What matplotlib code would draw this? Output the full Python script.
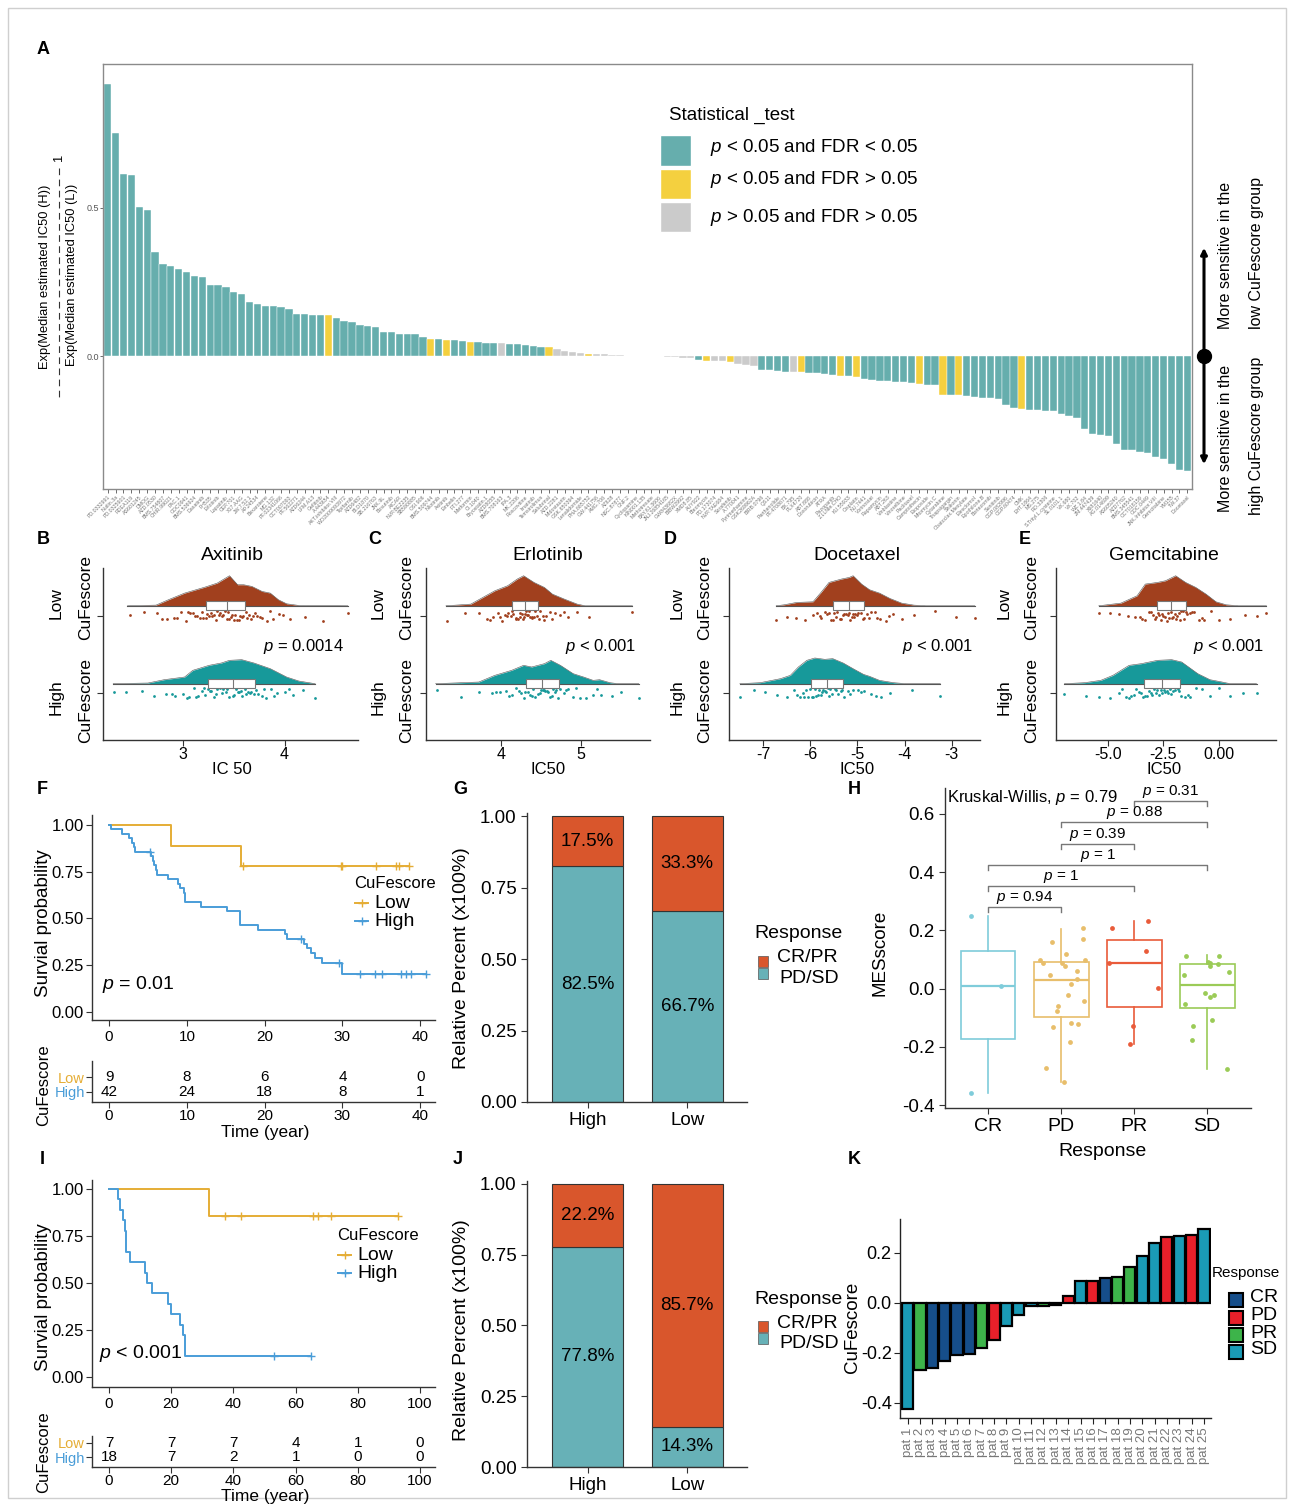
import numpy as np
import matplotlib
matplotlib.use("Agg")
import matplotlib.pyplot as plt
from matplotlib.patches import Rectangle, FancyArrowPatch
from matplotlib.lines import Line2D

plt.rcParams['font.family'] = ['Liberation Sans', 'DejaVu Sans']
plt.rcParams['mathtext.fontset'] = 'custom'
plt.rcParams['mathtext.rm'] = 'Liberation Sans'
plt.rcParams['mathtext.it'] = 'Liberation Sans:italic'
plt.rcParams['mathtext.sf'] = 'Liberation Sans'
plt.rcParams['axes.unicode_minus'] = False

# ---------------- data: panel A (drug sensitivity ranking) ----------------
drug_names = [
    "PD.0332991", "Nutlin.3a", "PD.0325901", "RDEA119", "AS601245", "DMOG", "AZD.0530", "BMS.754807", "CHIR.99021", "PAC.1",
    "GDC0941", "BMS.536924", "Dasatinib", "FH535", "Erlotinib", "Lapatinib", "CEP.701", "X17.AAG", "JW.7.52.1", "AP.24534",
    "Bexarotene", "MG.132", "PF.02341066", "CCT007093", "PF.562271", "AZD6244", "LFM.A13", "Gefitinib", "A.443654", "AKT.inhibitor.VIII",
    "WO2009093972", "Tipifarnib", "AZD6482", "BI.D1870", "SB.216763", "JNK.9L", "Bosutinib", "AICAR", "NVP.BEZ235", "SB590885",
    "OSI.906", "BMS.509744", "Nilotinib", "Axitinib", "Embelin", "FTI.277", "Metformin", "CI.1040", "Bryostatin.1", "AZD8055",
    "BMS.708163", "IPA.3", "MK.2206", "Roscovitine", "Imatinib", "Temsirolimus", "Salubrinal", "AZD.2281", "Midostaurin", "GSK.650394",
    "Lenalidomide", "PHA.665752", "GW.441756", "AMG.706", "AZ628", "NSC.87877", "GNF.2", "Cyclopamine", "KIN001.135", "Methotrexate",
    "BAY.61.3606", "JNJ.26854165", "GW843682X", "BIBW2992", "XMD8.85", "AUY922", "Bleomycin", "PD.173074", "NVP.TAE684", "Sorafenib",
    "A.770041", "Pyrimethamine", "GSK269962A", "BIRB.0796", "QS11", "Parthenolide", "PF.4708671", "BX.795", "PLX4720", "ABT.888",
    "Doxorubicin", "ATRA", "Pazopanib", "Z.LLNle.CHO", "KU.55933", "Cisplatin", "NU.7441", "Vorinostat", "Rapamycin", "ABT.263",
    "Vinblastine", "Vinorelbine", "Paclitaxel", "Camptothecin", "Etoposide", "Mitomycin.C", "Cytarabine", "Thapsigargin", "Shikonin", "Obatoclax.Mesylate",
    "Elesclomol", "Epothilone.B", "Bortezomib", "Sunitinib", "CGP.082996", "CGP.60474", "CMK", "EHT.1864", "MS.275", "RO.3306",
    "S.Trityl.L.cysteine", "SL.0101.1", "VX.680", "VX.702", "WZ.1.84", "ZM.447439", "X681640", "AG.014699", "AS605240", "AZD7762",
    "BMS.345541", "CCT018159", "GDC.0449", "JNK.Inhibitor.VIII", "Gemcitabine", "YM155", "TW.37", "Docetaxel",
]
drug_ratio = [
    0.920, 0.753, 0.614, 0.610, 0.503, 0.492, 0.350, 0.311, 0.305, 0.294,
    0.285, 0.270, 0.267, 0.241, 0.239, 0.234, 0.216, 0.208, 0.184, 0.175,
    0.169, 0.168, 0.167, 0.159, 0.143, 0.142, 0.140, 0.139, 0.137, 0.128,
    0.117, 0.115, 0.106, 0.100, 0.099, 0.081, 0.080, 0.075, 0.075, 0.073,
    0.063, 0.059, 0.056, 0.055, 0.053, 0.050, 0.047, 0.046, 0.043, 0.043,
    0.043, 0.041, 0.039, 0.036, 0.035, 0.030, 0.030, 0.023, 0.016, 0.012,
    0.010, 0.008, 0.006, 0.006, 0.004, 0.002, 0.001, 0.0005, 0.0003,
    -0.0005, -0.001, -0.002, -0.003, -0.005, -0.008,
    -0.012, -0.018, -0.018, -0.018, -0.021, -0.026, -0.032, -0.035,
    -0.047, -0.048, -0.050, -0.053, -0.054, -0.054, -0.056, -0.057, -0.062, -0.064,
    -0.066, -0.069, -0.072, -0.079, -0.082, -0.084, -0.086, -0.088, -0.089, -0.091,
    -0.093, -0.097, -0.099,
    -0.131, -0.133, -0.133, -0.135, -0.139, -0.141, -0.141, -0.144, -0.167, -0.175, -0.180,
    -0.181, -0.182, -0.187, -0.187, -0.197, -0.204, -0.209, -0.245, -0.262, -0.265,
    -0.270, -0.296, -0.316, -0.319, -0.324, -0.328, -0.341, -0.349, -0.366, -0.384, -0.389,
]
# 1-based positions of bars with p < 0.05 but FDR > 0.05, and of non-significant bars
drug_yellow = [29, 42, 44, 47, 57, 62, 77, 80, 89, 94, 96, 104, 107, 109, 117]
drug_gray = [51, 58, 59, 60, 61, 63, 64, 65, 66, 67, 68, 69, 70, 71, 72, 73, 74, 75,
             78, 79, 81, 82, 83, 88]
stat_labels = ['$p$ < 0.05 and FDR < 0.05', '$p$ < 0.05 and FDR > 0.05', '$p$ > 0.05 and FDR > 0.05']

# ---------------- data: panels B-E (raincloud) ----------------
axi_low_dx = [2.46, 2.74, 2.86, 3.02, 3.22, 3.34, 3.46, 3.54, 3.60, 3.68, 3.78, 3.86, 3.94, 4.02, 4.14, 4.62]
axi_low_dh = [0, 2, 18, 38, 56, 68, 90, 63, 63, 58, 43, 38, 18, 6, 1, 0]
axi_low_box = [2.46, 3.23, 3.44, 3.61, 4.62]
axi_low_pts = [2.48, 2.62, 2.75, 2.85, 2.92, 2.98, 3.03, 3.07, 3.10, 3.14, 3.17, 3.20, 3.23, 3.26, 3.29, 3.31, 3.34,
               3.37, 3.40, 3.42, 3.44, 3.46, 3.48, 3.50, 3.53, 3.56, 3.59, 3.62, 3.65, 3.69, 3.73, 3.78, 3.83, 3.89,
               3.95, 4.05, 4.20, 4.38, 4.62, 2.80, 2.95, 3.05, 3.12, 3.19, 3.24, 3.28, 3.33, 3.36, 3.39, 3.45,
               3.47, 3.51, 3.55, 3.58, 3.63, 3.67, 3.71, 3.76, 3.86, 3.98]
axi_high_dx = [2.32, 2.66, 2.82, 3.02, 3.10, 3.26, 3.38, 3.46, 3.58, 3.70, 3.86, 4.02, 4.14, 4.30]
axi_high_dh = [0, 2, 12, 20, 40, 55, 62, 70, 72, 62, 45, 20, 8, 0]
axi_high_box = [2.32, 3.25, 3.49, 3.71, 4.30]
axi_high_pts = [2.33, 2.45, 2.60, 2.72, 2.84, 2.93, 3.00, 3.06, 3.11, 3.15, 3.19, 3.22, 3.25, 3.28, 3.31, 3.34, 3.37,
                3.40, 3.43, 3.46, 3.49, 3.52, 3.55, 3.58, 3.61, 3.64, 3.67, 3.70, 3.74, 3.78, 3.82, 3.87, 3.93, 4.00,
                4.08, 4.18, 4.30, 2.90, 3.04, 3.13, 3.21, 3.27, 3.33, 3.39, 3.44, 3.50, 3.54, 3.57, 3.62, 3.66,
                3.72, 3.80, 3.90, 4.04]

erl_low_dx = [3.31, 3.62, 3.77, 3.92, 4.08, 4.20, 4.28, 4.41, 4.54, 4.64, 4.79, 4.95, 5.05, 5.64]
erl_low_dh = [0, 5, 25, 45, 60, 80, 90, 70, 55, 35, 20, 5, 0, 0]
erl_low_box = [3.31, 4.14, 4.30, 4.46, 5.64]
erl_low_pts = [3.32, 3.55, 3.72, 3.82, 3.90, 3.96, 4.01, 4.05, 4.09, 4.12, 4.15, 4.18, 4.21, 4.24, 4.27, 4.29, 4.31,
               4.33, 4.36, 4.39, 4.42, 4.45, 4.48, 4.52, 4.56, 4.61, 4.67, 4.74, 4.83, 4.95, 5.10, 5.64, 3.86,
               3.98, 4.07, 4.14, 4.19, 4.23, 4.26, 4.30, 4.32, 4.35, 4.38, 4.41, 4.47, 4.54, 4.63, 4.78]
erl_high_dx = [3.18, 3.72, 3.92, 4.13, 4.28, 4.38, 4.54, 4.62, 4.74, 4.90, 5.03, 5.15, 5.23, 5.36, 5.46, 5.72]
erl_high_dh = [0, 5, 25, 40, 55, 50, 60, 70, 55, 30, 20, 10, 12, 3, 0, 0]
erl_high_box = [3.18, 4.31, 4.51, 4.72, 5.72]
erl_high_pts = [3.20, 3.50, 3.72, 3.88, 3.98, 4.06, 4.13, 4.19, 4.25, 4.30, 4.34, 4.38, 4.42, 4.46, 4.50, 4.53, 4.57,
                4.61, 4.65, 4.69, 4.73, 4.78, 4.84, 4.90, 4.98, 5.06, 5.15, 5.25, 5.38, 5.50, 5.72, 3.93, 4.10,
                4.22, 4.28, 4.36, 4.40, 4.48, 4.52, 4.55, 4.59, 4.63, 4.67, 4.71, 4.81, 4.94, 5.20]

doc_low_dx = [-6.72, -6.55, -6.29, -5.94, -5.77, -5.60, -5.34, -5.17, -5.09, -4.91, -4.74, -4.53, -4.31, -4.06, -3.80, -3.55, -2.51]
doc_low_dh = [0, 3, 10, 12, 40, 70, 80, 85, 90, 65, 48, 38, 22, 8, 2, 0, 0]
doc_low_box = [-6.72, -5.52, -5.17, -4.85, -2.51]
doc_low_pts = [-6.72, -6.50, -6.30, -6.10, -5.95, -5.85, -5.76, -5.68, -5.61, -5.55, -5.49, -5.43, -5.37, -5.31, -5.25,
               -5.20, -5.15, -5.10, -5.04, -4.98, -4.92, -4.86, -4.80, -4.72, -4.63, -4.52, -4.40, -4.25, -4.05, -3.80,
               -3.35, -2.90, -2.51, -5.80, -5.64, -5.52, -5.46, -5.34, -5.28, -5.18, -5.12, -5.07, -5.01, -4.89,
               -4.76, -4.58, -4.33]
doc_high_dx = [-7.49, -7.06, -6.63, -6.42, -6.25, -6.07, -5.90, -5.69, -5.52, -5.30, -5.09, -4.87, -4.74, -4.53, -4.23, -3.97, -3.24]
doc_high_dh = [0, 3, 15, 25, 50, 70, 77, 73, 75, 62, 45, 28, 22, 10, 3, 0, 0]
doc_high_box = [-7.49, -5.99, -5.64, -5.30, -3.24]
doc_high_pts = [-7.49, -7.20, -6.95, -6.70, -6.50, -6.35, -6.22, -6.12, -6.04, -5.97, -5.90, -5.84, -5.78, -5.72, -5.66,
                -5.60, -5.54, -5.48, -5.42, -5.35, -5.28, -5.20, -5.10, -4.98, -4.85, -4.70, -4.50, -4.30, -3.85, -3.24,
                -6.28, -6.16, -6.08, -6.00, -5.93, -5.87, -5.81, -5.75, -5.69, -5.63, -5.57, -5.45, -5.32, -5.15,
                -4.92, -4.60]

gem_low_dx = [-5.42, -4.42, -3.69, -3.32, -2.77, -2.41, -1.95, -1.50, -1.04, -0.58, -0.13, 0.33, 0.88, 2.15]
gem_low_dh = [0, 8, 30, 65, 70, 75, 90, 70, 55, 35, 12, 3, 0, 0]
gem_low_box = [-5.42, -2.81, -2.14, -1.46, 2.15]
gem_low_pts = [-5.42, -4.90, -4.50, -4.10, -3.80, -3.55, -3.35, -3.15, -2.98, -2.84, -2.70, -2.56, -2.43, -2.30, -2.18,
               -2.06, -1.94, -1.82, -1.70, -1.57, -1.43, -1.28, -1.10, -0.90, -0.65, -0.35, 0.00, 0.50, 1.20, 1.70, 2.15,
               -3.45, -3.05, -2.90, -2.76, -2.63, -2.50, -2.36, -2.24, -2.12, -2.00, -1.88, -1.76, -1.63, -1.50,
               -1.20, -0.78]
gem_high_dx = [-6.97, -6.06, -5.33, -4.78, -4.05, -3.50, -2.77, -2.13, -1.68, -0.95, -0.40, 0.15, 0.51, 1.70]
gem_high_dh = [0, 3, 10, 25, 55, 60, 70, 72, 65, 30, 12, 5, 0, 0]
gem_high_box = [-6.97, -3.36, -2.55, -1.77, 1.70]
gem_high_pts = [-6.97, -6.00, -5.40, -4.90, -4.50, -4.20, -3.95, -3.72, -3.52, -3.34, -3.17, -3.00, -2.85, -2.70, -2.56,
                -2.42, -2.28, -2.14, -2.00, -1.85, -1.70, -1.52, -1.30, -1.05, -0.75, -0.40, 0.00, 0.50, 1.10, 1.70,
                -4.35, -4.05, -3.85, -3.62, -3.43, -3.25, -3.08, -2.92, -2.78, -2.63, -2.49, -2.35, -2.21, -2.07,
                -1.78, -1.40]

# ---------------- data: panels F and I (survival) ----------------
f_low_time = [8.0, 16.9, 17.2, 29.8, 29.9, 34.3, 36.9, 37.3, 38.6]
f_low_event = [1, 1, 0, 0, 0, 0, 0, 0, 0]
f_high_time = [0.2, 1.7, 2.5, 3.0, 3.2, 3.3, 5.2, 5.4, 5.6, 5.8, 6.0, 6.2, 7.6, 8.9, 9.1, 9.6, 9.8, 9.8,
               11.8, 15.2, 16.8, 16.8, 16.8, 19.2, 22.6, 22.9, 24.7, 25.1, 25.5, 26.0, 26.5, 27.4, 29.6,
               30.0, 30.0, 32.3, 34.2, 35.1, 37.5, 38.2, 38.8, 40.8]
f_high_event = [1, 1, 1, 1, 1, 1, 0, 1, 1, 1, 1, 1, 1, 1, 1, 1, 1, 1,
                1, 1, 1, 1, 1, 1, 1, 1, 0, 1, 1, 1, 1, 1, 0,
                1, 1, 0, 0, 0, 0, 0, 0, 0]
f_risk_t = [0, 10, 20, 30, 40]
f_risk_low = [9, 8, 6, 4, 0]
f_risk_high = [42, 24, 18, 8, 1]

i_low_time = [32.0, 37.3, 42.3, 65.5, 67.3, 71.5, 93.0]
i_low_event = [1, 0, 0, 0, 0, 0, 0]
i_high_time = [3.0, 3.5, 4.5, 5.0, 5.5, 5.5, 6.9, 11.5, 12.2, 13.8, 18.9, 20.0, 22.7, 23.7, 24.5, 24.5, 53.0, 64.9]
i_high_event = [1, 1, 1, 1, 1, 1, 1, 1, 1, 1, 1, 1, 1, 1, 1, 1, 0, 0]
i_risk_t = [0, 20, 40, 60, 80, 100]
i_risk_low = [7, 7, 7, 4, 1, 0]
i_risk_high = [18, 7, 2, 1, 0, 0]

# ---------------- data: panels G and J (response proportions) ----------------
resp_groups = ['High', 'Low']
g_pd_sd = [0.825, 0.667]
g_cr_pr = [0.175, 0.333]
j_pd_sd = [0.778, 0.143]
j_cr_pr = [0.222, 0.857]

# ---------------- data: panel H (MESscore by response) ----------------
h_groups = ['CR', 'PD', 'PR', 'SD']
h_lo = [-0.360, -0.320, -0.190, -0.276]
h_q1 = [-0.174, -0.098, -0.063, -0.066]
h_med = [0.010, 0.031, 0.089, 0.014]
h_q3 = [0.129, 0.092, 0.167, 0.083]
h_hi = [0.249, 0.206, 0.232, 0.117]
h_cr_pts = [0.248, 0.010, -0.360]
h_pd_pts = [0.172, 0.118, 0.159, 0.207, 0.089, 0.089, 0.099, 0.100, 0.078, 0.062, 0.046, 0.032, 0.015,
            -0.022, -0.044, -0.060, -0.076, -0.118, -0.123, -0.132, -0.185, -0.271, -0.320]
h_pr_pts = [0.232, 0.207, 0.128, 0.089, 0.002, -0.130, -0.190]
h_sd_pts = [0.083, 0.092, 0.111, 0.111, 0.089, 0.077, 0.056, 0.046, -0.016, -0.021, -0.030, -0.052,
            -0.107, -0.130, -0.176, -0.277]
h_pairs = [(1, 2), (1, 3), (1, 4), (2, 3), (2, 4), (3, 4)]
h_pvals = ['0.94', '1', '1', '0.39', '0.88', '0.31']
h_bracket_y = [0.279, 0.351, 0.424, 0.497, 0.571, 0.644]

# ---------------- data: panel K (waterfall) ----------------
k_patients = ['pat 1', 'pat 2', 'pat 3', 'pat 4', 'pat 5', 'pat 6', 'pat 7', 'pat 8', 'pat 9', 'pat 10',
              'pat 11', 'pat 12', 'pat 13', 'pat 14', 'pat 15', 'pat 16', 'pat 17', 'pat 18', 'pat 19', 'pat 20',
              'pat 21', 'pat 22', 'pat 23', 'pat 24', 'pat 25']
k_score = [-0.425, -0.269, -0.259, -0.233, -0.208, -0.203, -0.179, -0.149, -0.092, -0.047,
           -0.013, -0.013, -0.010, 0.029, 0.087, 0.088, 0.101, 0.104, 0.144, 0.187,
           0.240, 0.264, 0.267, 0.273, 0.297]
k_resp = ['SD', 'PR', 'CR', 'CR', 'CR', 'CR', 'PR', 'PD', 'SD', 'SD',
          'SD', 'PR', 'CR', 'PD', 'SD', 'PD', 'CR', 'PR', 'PR', 'SD',
          'SD', 'PD', 'SD', 'PD', 'SD']

# ---------------- colours ----------------
TEAL_A = '#66AEAD'
YELLOW_A = '#F4D03F'
GRAY_A = '#CBCBCB'
LOW_RAIN = '#A1401E'
HIGH_RAIN = '#17999A'
KM_LOW = '#E5AD35'
KM_HIGH = '#4A9DD8'
BAR_ORANGE = '#D9562C'
BAR_TEAL = '#67B1B7'
H_COLS = ['#7FCCDA', '#E8BE6B', '#E95B3A', '#9BCB57']
K_COLS = {'CR': '#164E8A', 'PD': '#E8202A', 'PR': '#3DB44A', 'SD': '#1A9BB6'}

W, H = 1293, 1505
fig = plt.figure(figsize=(W / 100, H / 100), dpi=100)


def add_ax(x0, y0, x1, y1):
    return fig.add_axes([x0 / W, 1 - y1 / H, (x1 - x0) / W, (y1 - y0) / H])


def ftext(x, y, s, **kw):
    kw.setdefault('ha', 'center')
    kw.setdefault('va', 'center')
    return fig.text(x / W, 1 - y / H, s, **kw)


def frect(x0, y0, x1, y1, **kw):
    fig.add_artist(Rectangle((x0 / W, 1 - y1 / H), (x1 - x0) / W, (y1 - y0) / H,
                             transform=fig.transFigure, **kw))


def fline(xs, ys, **kw):
    fig.add_artist(Line2D([x / W for x in xs], [1 - y / H for y in ys], transform=fig.transFigure, **kw))


def style_axes(ax, color='#333333'):
    for s in ['top', 'right']:
        ax.spines[s].set_visible(False)
    for s in ['left', 'bottom']:
        ax.spines[s].set_color(color)
        ax.spines[s].set_linewidth(1.0)
    ax.tick_params(color=color, length=4, width=0.8)


# outer frame
frect(8, 8, 1286, 1498, fill=False, edgecolor='#cfcfcf', lw=1)

# panel letters
for lab, x, y in [('A', 43, 50), ('B', 43, 540), ('C', 375, 540), ('D', 670, 540), ('E', 1025, 540),
                  ('F', 42, 790), ('G', 460, 790), ('H', 854, 790), ('I', 42, 1160), ('J', 458, 1160),
                  ('K', 854, 1160)]:
    ftext(x, y, lab, fontsize=13, fontweight='bold')

# ================= Panel A =================
axA = add_ax(103, 64, 1192, 489)
n_drugs = len(drug_ratio)
cat_cols = []
for k in range(1, n_drugs + 1):
    if k in drug_yellow:
        cat_cols.append(YELLOW_A)
    elif k in drug_gray:
        cat_cols.append(GRAY_A)
    else:
        cat_cols.append(TEAL_A)
xa = np.arange(n_drugs)
axA.bar(xa, drug_ratio, width=0.92, color=cat_cols, edgecolor='white', linewidth=0.3)
axA.set_xlim(-0.6, n_drugs - 0.4)
axA.set_ylim(-0.449, 0.986)
axA.set_yticks([0, 0.5])
axA.set_yticklabels(['0.0', '0.5'], fontsize=6.5, color='#555555')
axA.set_xticks(xa)
axA.set_xticklabels(drug_names, rotation=45, ha='right', rotation_mode='anchor', fontsize=3.8, color='#777777')
axA.tick_params(axis='x', length=3, width=0.6, color='#555555', pad=1)
axA.tick_params(axis='y', length=2, width=0.6, color='#555555', pad=1)
for s in axA.spines.values():
    s.set_color('#8a8a8a')
    s.set_linewidth(1.0)

ftext(45, 277, 'Exp(Median estimated IC50 (H))', rotation=90, fontsize=9.3)
ftext(72, 275, 'Exp(Median estimated IC50 (L))', rotation=90, fontsize=9.3)
fline([59, 59], [168, 400], color='#333333', lw=0.8, ls=(0, (6, 4)))
ftext(59, 157, '1', rotation=90, fontsize=9.3)

# legend of panel A
ftext(669, 115, 'Statistical _test', fontsize=13.5, ha='left')
for (y0, y1, yt), col, lab in zip([(135, 166, 147), (169, 199, 180), (202, 232, 218)],
                                  [TEAL_A, YELLOW_A, GRAY_A], stat_labels):
    frect(660, y0, 691, y1, facecolor=col, edgecolor='white', lw=1)
    ftext(710, yt, lab, fontsize=13.5, ha='left')

# right hand arrow
fig.add_artist(FancyArrowPatch((1204 / W, 1 - 467 / H), (1204 / W, 1 - 245 / H), transform=fig.transFigure,
                               arrowstyle='<|-|>', mutation_scale=9, lw=2.2, color='black'))
fline([1204], [356], marker='o', markersize=10, color='black')
ftext(1225, 255, 'More sensitive in the', rotation=90, fontsize=11.5)
ftext(1256, 253, 'low CuFescore group', rotation=90, fontsize=11.5)
ftext(1225, 438, 'More sensitive in the', rotation=90, fontsize=11.5)
ftext(1256, 436, 'high CuFescore group', rotation=90, fontsize=11.5)

# ================= Panels B-E =================
DENS_SCALE = 1.0 / (3 * 77)
rng = np.random.default_rng(7)


def raincloud(box_px, xlim, ticks, ticklabels, title, title_x, xlab, ptxt, ptxt_x, ylab_x,
              low, high):
    ax = add_ax(*box_px)
    style_axes(ax)
    for grp, tick_y, base, col in [(low, 2.0, 2.13, LOW_RAIN), (high, 1.0, 1.12, HIGH_RAIN)]:
        dx, dh, box, pts = grp
        top = base + np.array(dh) * DENS_SCALE
        ax.fill_between(dx, base, top, color=col, lw=0, zorder=2)
        ax.plot(dx, top, color='#555555', lw=0.4, zorder=2)
        ax.plot([box[0], box[4]], [base, base], color='#555555', lw=0.8, zorder=2)
        ax.add_patch(Rectangle((box[1], base - 0.058), box[3] - box[1], 0.116, facecolor='white',
                               edgecolor='#777777', lw=0.8, zorder=3))
        ax.plot([box[2], box[2]], [base - 0.058, base + 0.058], color='#777777', lw=0.8, zorder=4)
        jit = rng.uniform(-0.065, 0.065, len(pts))
        ax.scatter(pts, tick_y + jit, s=4, color=col, lw=0, zorder=2)
    ax.set_xlim(*xlim)
    ax.set_ylim(0.39, 2.62)
    ax.set_yticks([1, 2])
    ax.set_yticklabels([])
    ax.set_xticks(ticks)
    ax.set_xticklabels(ticklabels, fontsize=11.5)
    ax.tick_params(axis='x', pad=1)
    ftext(title_x, 555, title, fontsize=14)
    ftext(title_x, 769, xlab, fontsize=12)
    ftext(ptxt_x, 647, ptxt, fontsize=12, ha='right')
    ftext(ylab_x[0], 603, 'Low', rotation=90, fontsize=12.5)
    ftext(ylab_x[1], 597, 'CuFescore', rotation=90, fontsize=12.5)
    ftext(ylab_x[0], 697, 'High', rotation=90, fontsize=12.5)
    ftext(ylab_x[1], 701, 'CuFescore', rotation=90, fontsize=12.5)
    return ax


raincloud((103, 568, 358, 740), (2.22, 4.72), [3, 4], ['3', '4'], 'Axitinib', 232, 'IC 50',
          '$p$ = 0.0014', 344, (56, 86),
          (axi_low_dx, axi_low_dh, axi_low_box, axi_low_pts),
          (axi_high_dx, axi_high_dh, axi_high_box, axi_high_pts))
raincloud((426, 568, 650, 740), (3.06, 5.86), [4, 5], ['4', '5'], 'Erlotinib', 548, 'IC50',
          '$p$ < 0.001', 636, (378, 407),
          (erl_low_dx, erl_low_dh, erl_low_box, erl_low_pts),
          (erl_high_dx, erl_high_dh, erl_high_box, erl_high_pts))
raincloud((729, 568, 980, 740), (-7.72, -2.4), [-7, -6, -5, -4, -3], ['-7', '-6', '-5', '-4', '-3'],
          'Docetaxel', 857, 'IC50', '$p$ < 0.001', 973, (677, 705),
          (doc_low_dx, doc_low_dh, doc_low_box, doc_low_pts),
          (doc_high_dx, doc_high_dh, doc_high_box, doc_high_pts))
raincloud((1056, 568, 1276, 740), (-7.35, 2.58), [-5, -2.5, 0], ['-5.0', '-2.5', '0.00'],
          'Gemcitabine', 1164, 'IC50', '$p$ < 0.001', 1264, (1004, 1032),
          (gem_low_dx, gem_low_dh, gem_low_box, gem_low_pts),
          (gem_high_dx, gem_high_dh, gem_high_box, gem_high_pts))

# ================= Panels F and I =================


def km(times, events):
    t = np.array(times, dtype=float)
    e = np.array(events)
    xs, ys = [0.0], [1.0]
    s = 1.0
    for u in np.unique(t[e == 1]):
        n_risk = np.sum(t >= u)
        d = np.sum((t == u) & (e == 1))
        s *= 1 - d / n_risk
        xs.append(u)
        ys.append(s)
    xs.append(t.max())
    ys.append(s)
    xs, ys = np.array(xs), np.array(ys)
    cens_t = t[e == 0]
    cens_s = [ys[np.searchsorted(xs[:-1], c, side='right') - 1] for c in cens_t]
    return xs, ys, cens_t, cens_s


def km_panel(km_box, xlim, ylim, xticks, groups, ptxt, pxy, leg, risk_box, risk_ylim, risk_t,
             risk_low, risk_high, xlab_y, surv_lab_y, cu_lab_y):
    ax = add_ax(*km_box)
    style_axes(ax)
    for (tt, ee), col in zip(groups, [KM_LOW, KM_HIGH]):
        xs, ys, ct, cs = km(tt, ee)
        ax.step(xs, ys, where='post', color=col, lw=1.4)
        ax.plot(ct, cs, ls='none', marker='+', markersize=6, mew=1.0, color=col)
    ax.set_xlim(*xlim)
    ax.set_ylim(*ylim)
    ax.set_yticks([0, 0.25, 0.5, 0.75, 1.0])
    ax.set_yticklabels(['0.00', '0.25', '0.50', '0.75', '1.00'], fontsize=12)
    ax.tick_params(axis='y', pad=2)
    ax.set_xticks(xticks)
    ax.set_xticklabels([str(v) for v in xticks], fontsize=11)
    ftext(pxy[0], pxy[1], ptxt, fontsize=14, ha='left')
    ftext(44, surv_lab_y, 'Survial probability', rotation=90, fontsize=13.5)
    # legend
    lx, ly = leg
    ftext(lx, ly, 'CuFescore', fontsize=12, ha='left')
    for dy, col, lab in [(20, KM_LOW, 'Low'), (38, KM_HIGH, 'High')]:
        fline([lx + 1, lx + 14], [ly + dy, ly + dy], color=col, lw=1.4)
        fline([lx + 7.5], [ly + dy], marker='+', markersize=6, mew=1.0, color=col)
        ftext(lx + 20, ly + dy, lab, fontsize=14, ha='left')
    # risk table
    rax = add_ax(*risk_box)
    style_axes(rax)
    rax.set_xlim(*xlim)
    rax.set_ylim(*risk_ylim)
    rax.set_yticks([2, 1])
    rax.set_yticklabels(['Low', 'High'], fontsize=10.5)
    rax.tick_params(axis='y', pad=1)
    for lbl, col in zip(rax.get_yticklabels(), [KM_LOW, KM_HIGH]):
        lbl.set_color(col)
    rax.set_xticks(xticks)
    rax.set_xticklabels([str(v) for v in xticks], fontsize=11)
    rax.tick_params(axis='x', pad=1)
    for t, nl, nh in zip(risk_t, risk_low, risk_high):
        rax.text(t, 2, str(nl), ha='center', va='center', fontsize=11)
        rax.text(t, 1, str(nh), ha='center', va='center', fontsize=11)
    ftext(265, xlab_y, 'Time (year)', fontsize=12.5)
    ftext(44, cu_lab_y, 'CuFescore', rotation=90, fontsize=12)


km_panel((92, 815, 435, 1020), (-2.2, 41.9), (-0.043, 1.053), [0, 10, 20, 30, 40],
         [(f_low_time, f_low_event), (f_high_time, f_high_event)], '$p$ = 0.01', (102, 985),
         (354, 883), (92, 1061, 435, 1102), (0.33, 3.07), f_risk_t, f_risk_low, f_risk_high,
         1133, 923, 1085)
km_panel((92, 1180, 435, 1387), (-5.47, 104.8), (-0.053, 1.048), [0, 20, 40, 60, 80, 100],
         [(i_low_time, i_low_event), (i_high_time, i_high_event)], '$p$ < 0.001', (99, 1353),
         (337, 1235), (92, 1436, 435, 1467), (0.32, 2.47), i_risk_t, i_risk_low, i_risk_high,
         1497, 1297, 1452)

# ================= Panels G and J =================


def prop_panel(box_px, pd_sd, cr_pr, leg_y, ylab_y):
    ax = add_ax(*box_px)
    style_axes(ax)
    xg = np.arange(1, len(resp_groups) + 1)
    ax.bar(xg, pd_sd, width=0.71, color=BAR_TEAL, edgecolor='#333333', lw=0.8)
    ax.bar(xg, cr_pr, width=0.71, bottom=pd_sd, color=BAR_ORANGE, edgecolor='#333333', lw=0.8)
    for x, a, b in zip(xg, pd_sd, cr_pr):
        ax.text(x, a / 2, f'{a * 100:.1f}%', ha='center', va='center', fontsize=13.5)
        ax.text(x, a + b / 2, f'{b * 100:.1f}%', ha='center', va='center', fontsize=13.5)
    ax.set_xlim(0.39, 2.6)
    ax.set_ylim(0, 1.0105)
    ax.set_yticks([0, 0.25, 0.5, 0.75, 1.0])
    ax.set_yticklabels(['0.00', '0.25', '0.50', '0.75', '1.00'], fontsize=13.5)
    ax.set_xticks(xg)
    ax.set_xticklabels(resp_groups, fontsize=13.5)
    ftext(462, ylab_y, 'Relative Percent (x100%)', rotation=90, fontsize=14)
    ftext(798, leg_y, 'Response', fontsize=14)
    frect(758, leg_y + 22, 768, leg_y + 33, facecolor=BAR_ORANGE, edgecolor='#555555', lw=0.5)
    frect(758, leg_y + 34, 768, leg_y + 45, facecolor=BAR_TEAL, edgecolor='#555555', lw=0.5)
    ftext(777, leg_y + 24, 'CR/PR', fontsize=14, ha='left')
    ftext(779, leg_y + 45, 'PD/SD', fontsize=14, ha='left')


prop_panel((527, 813, 747, 1102), g_pd_sd, g_cr_pr, 934, 958)
prop_panel((527, 1181, 747, 1467), j_pd_sd, j_cr_pr, 1299, 1330)

# ================= Panel H =================
axH = add_ax(945, 788, 1251, 1108)
style_axes(axH)
stats = []
for i in range(4):
    stats.append({'med': h_med[i], 'q1': h_q1[i], 'q3': h_q3[i], 'whislo': h_lo[i], 'whishi': h_hi[i],
                  'fliers': [], 'label': h_groups[i]})
bp = axH.bxp(stats, positions=[1, 2, 3, 4], widths=0.75, patch_artist=True, showfliers=False)
for i, col in enumerate(H_COLS):
    bp['boxes'][i].set_facecolor('white')
    bp['boxes'][i].set_edgecolor(col)
    bp['boxes'][i].set_linewidth(1.2)
    bp['medians'][i].set_color(col)
    bp['medians'][i].set_linewidth(1.6)
    for w in bp['whiskers'][2 * i:2 * i + 2]:
        w.set_color(col)
        w.set_linewidth(1.2)
    for c in bp['caps'][2 * i:2 * i + 2]:
        c.set_visible(False)
for i, (pts, col) in enumerate(zip([h_cr_pts, h_pd_pts, h_pr_pts, h_sd_pts], H_COLS)):
    jit = rng.uniform(-0.35, 0.35, len(pts))
    axH.scatter(i + 1 + jit, pts, s=12, color=col, lw=0, zorder=4)
for (a, b), pv, yb in zip(h_pairs, h_pvals, h_bracket_y):
    axH.plot([a, a, b, b], [yb - 0.017, yb, yb, yb - 0.017], color='#777777', lw=1.0)
    axH.text((a + b) / 2, yb + 0.004, f'$p$ = {pv}', ha='center', va='bottom', fontsize=11)
axH.text(0.44, 0.655, 'Kruskal-Willis, $p$ = 0.79', ha='left', va='center', fontsize=12)
axH.set_xlim(0.41, 4.6)
axH.set_ylim(-0.41, 0.689)
axH.set_yticks([-0.4, -0.2, 0, 0.2, 0.4, 0.6])
axH.set_yticklabels(['-0.4', '-0.2', '0.0', '0.2', '0.4', '0.6'], fontsize=13.5)
axH.set_xticks([1, 2, 3, 4])
axH.set_xticklabels(h_groups, fontsize=14)
ftext(880, 953, 'MESscore', rotation=90, fontsize=13.5)
ftext(1103, 1151, 'Response', fontsize=14)

# ================= Panel K =================
axK = add_ax(900, 1219, 1211, 1418)
style_axes(axK, '#222222')
xk = np.arange(1, len(k_score) + 1)
axK.bar(xk, k_score, width=0.9, color=[K_COLS[r] for r in k_resp], edgecolor='black', lw=1.6)
axK.set_xlim(0.38, 25.57)
axK.set_ylim(-0.46, 0.335)
axK.set_yticks([-0.4, -0.2, 0, 0.2])
axK.set_yticklabels(['-0.4', '-0.2', '0.0', '0.2'], fontsize=13)
axK.tick_params(axis='y', pad=2)
axK.set_xticks(xk)
axK.set_xticklabels(k_patients, rotation=90, fontsize=9.5, color='#777777')
axK.tick_params(axis='x', pad=3)
ftext(852, 1327, 'CuFescore', rotation=90, fontsize=13.5)
ftext(1212, 1273, 'Response', fontsize=11, ha='left')
for lab, y0 in zip(['CR', 'PD', 'PR', 'SD'], [1293, 1311, 1328, 1345]):
    frect(1229, y0, 1243, y0 + 14, facecolor=K_COLS[lab], edgecolor='black', lw=1.5)
    ftext(1250, y0 + 5, lab, fontsize=14, ha='left')

fig.savefig('out.png', dpi=100)
